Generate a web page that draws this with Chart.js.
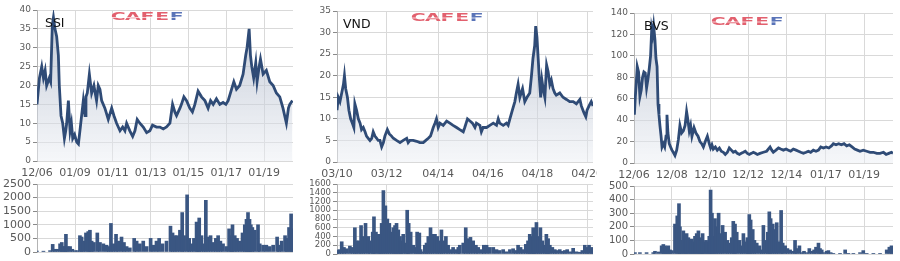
<!DOCTYPE html>
<html lang="vi">
<head>
<meta charset="UTF-8">
<title>SSI, VND, BVS</title>
<script src="https://cdn.jsdelivr.net/npm/chart.js"></script>
<style>
  body { margin: 0; background: #fff; }
  #wrap { position: relative; width: 900px; height: 261px; overflow: hidden; }
  canvas { position: absolute; }
</style>
</head>
<body>
<div id="wrap">
  <canvas id="ssiPriceCv" width="300" height="185" style="left:0;top:0"></canvas>
  <canvas id="ssiVolCv" width="300" height="83" style="left:0;top:178px"></canvas>
  <canvas id="vndPriceCv" width="297" height="185" style="left:300px;top:0"></canvas>
  <canvas id="vndVolCv" width="297" height="83" style="left:300px;top:178px"></canvas>
  <canvas id="bvsPriceCv" width="300" height="185" style="left:600px;top:0"></canvas>
  <canvas id="bvsVolCv" width="300" height="83" style="left:600px;top:178px"></canvas>
</div>
<script>
// ---- SSI ----
const ssiYears = [2006.99,2007.12,2007.24,2007.33,2007.42,2007.50,2007.64,2007.71,2007.80,2007.86,
  2007.94,2008.03,2008.12,2008.17,2008.26,2008.35,2008.44,2008.51,2008.56,2008.65,
  2008.74,2008.81,2008.88,2008.98,2009.09,2009.18,2009.26,2009.35,2009.44,2009.53,
  2009.58,2009.65,2009.76,2009.88,2010.00,2010.14,2010.23,2010.32,2010.41,2010.58,
  2010.76,2010.94,2011.06,2011.20,2011.38,2011.52,2011.64,2011.73,2011.90,2012.05,
  2012.17,2012.29,2012.43,2012.61,2012.79,2012.96,2013.10,2013.31,2013.49,2013.67,
  2013.84,2014.02,2014.16,2014.28,2014.37,2014.55,2014.63,2014.76,2014.90,2015.07,
  2015.21,2015.34,2015.51,2015.69,2015.87,2016.04,2016.17,2016.31,2016.48,2016.66,
  2016.83,2016.98,2017.10,2017.22,2017.40,2017.54,2017.71,2017.89,2018.03,2018.10,
  2018.21,2018.28,2018.35,2018.45,2018.56,2018.63,2018.74,2018.81,2018.95,2019.12,
  2019.30,2019.48,2019.65,2019.83,2020.00,2020.18,2020.29,2020.36,2020.50];
const ssiPrice = [15,22,25,22,24,20,22,21,36,38,
  35,33,28,20,12,10,6,8,10,16,
  8,10,6,7,5,4.5,8,12,16,12,
  17,18,23,18,20,16,20,19,16,14,
  11,14,12,10,8,9,8,10,8,6.5,
  8,11,10,9,7.5,8,9.5,9,9,8.5,
  9,10,15,13,12,14,15,17,16,14,
  13,15,18.5,17,16,14,16,15,16.5,15,
  15.5,15,16,18,21,19,20,23,28,30,
  35,28,25,22,26,21,25,27,23,24,
  21,20,18,17,14,10,14,15,16];
const ssiVolYears = [2006.99,2007.33,2007.68,2007.82,2007.94,2008.07,2008.21,2008.30,2008.38,2008.47,
  2008.52,2008.61,2008.74,2008.86,2009.00,2009.12,2009.26,2009.35,2009.44,2009.58,
  2009.70,2009.79,2009.88,2010.00,2010.18,2010.32,2010.50,2010.67,2010.78,2010.90,
  2011.02,2011.17,2011.29,2011.46,2011.59,2011.73,2011.90,2012.13,2012.26,2012.43,
  2012.61,2012.79,2013.00,2013.14,2013.31,2013.45,2013.63,2013.84,2014.05,2014.16,
  2014.28,2014.40,2014.55,2014.67,2014.77,2014.93,2015.04,2015.16,2015.29,2015.43,
  2015.50,2015.57,2015.69,2015.81,2015.92,2016.04,2016.17,2016.31,2016.45,2016.57,
  2016.69,2016.83,2017.01,2017.15,2017.26,2017.33,2017.45,2017.57,2017.71,2017.86,
  2017.98,2018.07,2018.15,2018.23,2018.30,2018.38,2018.51,2018.68,2018.77,2018.95,
  2019.12,2019.30,2019.48,2019.69,2019.79,2019.93,2020.11,2020.21,2020.32,2020.43,2020.50];
const ssiVolume = [30,30,50,280,100,100,300,350,200,200,
  650,200,200,100,50,50,600,550,400,700,
  750,800,400,350,700,350,300,250,200,1050,
  300,650,400,550,350,200,150,500,400,300,
  400,200,500,250,400,500,300,400,950,700,
  600,600,800,1450,600,2100,500,300,500,1100,
  900,1250,600,300,1900,550,600,350,500,600,
  400,300,200,850,600,1000,600,500,400,700,
  1000,1200,1450,1200,1000,900,800,1000,300,250,
  250,200,250,550,250,400,600,500,900,1400,850];
const ssiTickVals = [2006.99, 2009.0, 2011.0, 2013.0, 2015.0, 2017.0, 2019.0];
const ssiTickText = ['12/06', '01/09', '01/11', '01/13', '01/15', '01/17', '01/19'];

// ---- VND ----
const vndYears = [2010.17,2010.22,2010.29,2010.36,2010.43,2010.47,2010.52,2010.59,2010.65,2010.72,
  2010.79,2010.85,2010.89,2010.96,2011.03,2011.10,2011.16,2011.23,2011.30,2011.36,
  2011.43,2011.50,2011.57,2011.63,2011.70,2011.77,2011.83,2011.90,2011.97,2012.04,
  2012.10,2012.20,2012.28,2012.37,2012.44,2012.57,2012.71,2012.84,2012.98,2013.04,
  2013.11,2013.24,2013.38,2013.51,2013.65,2013.75,2013.85,2013.94,2014.05,2014.12,
  2014.18,2014.25,2014.32,2014.45,2014.59,2014.72,2014.85,2014.99,2015.12,2015.26,
  2015.32,2015.43,2015.53,2015.63,2015.73,2015.79,2015.93,2015.99,2016.06,2016.20,
  2016.33,2016.47,2016.60,2016.67,2016.73,2016.87,2017.00,2017.07,2017.14,2017.24,
  2017.34,2017.40,2017.47,2017.54,2017.65,2017.74,2017.83,2017.94,2018.01,2018.07,
  2018.14,2018.18,2018.23,2018.28,2018.32,2018.38,2018.43,2018.48,2018.55,2018.62,
  2018.68,2018.75,2018.81,2018.88,2018.95,2019.01,2019.15,2019.28,2019.42,2019.55,
  2019.69,2019.82,2019.96,2020.02,2020.12,2020.20,2020.25,2020.33,2020.42,2020.49];
const vndPrice = [12,15,14,16,18,20,17,15,12,10,
  9,8,13.5,12,10,9,7.5,8,7,6,
  5.5,5,5.5,7,6,5.5,5,5,3.5,4.5,
  6,7.5,6.5,6,5.5,5,4.5,5,5.5,4.5,
  5,5,4.8,4.5,4.5,5,5.5,6,8,9,
  10,8,9,8.5,9.5,9,8.5,8,7.5,7,
  8,10,9.5,9,8,9,8.5,7,8,8,
  8.5,9,8.5,10,9,8.5,9,8.5,10,12,
  14,16,18,15,17,14,15,16,20,24,
  27,31.5,29,24,20,15,19,17,15,22.5,
  21,18,19,17,16,15.5,16,15,14.5,14,
  14,13.5,14.5,13,11.5,10.5,12,13,14,13];
const vndVolYears = [2010.18,2010.26,2010.36,2010.45,2010.56,2010.69,2010.80,2010.89,2010.96,2011.06,
  2011.14,2011.23,2011.32,2011.43,2011.50,2011.61,2011.66,2011.74,2011.83,2011.90,
  2011.97,2012.04,2012.12,2012.20,2012.28,2012.37,2012.44,2012.51,2012.57,2012.64,
  2012.71,2012.77,2012.84,2012.95,2013.00,2013.06,2013.14,2013.24,2013.35,2013.40,
  2013.49,2013.54,2013.62,2013.71,2013.78,2013.85,2013.94,2014.02,2014.12,2014.21,
  2014.29,2014.38,2014.45,2014.56,2014.65,2014.75,2014.85,2014.96,2015.06,2015.12,
  2015.26,2015.36,2015.46,2015.55,2015.66,2015.77,2015.86,2015.99,2016.09,2016.20,
  2016.33,2016.47,2016.60,2016.73,2016.87,2017.00,2017.14,2017.27,2017.38,2017.47,
  2017.57,2017.67,2017.78,2017.87,2017.94,2018.01,2018.08,2018.13,2018.21,2018.29,
  2018.37,2018.45,2018.55,2018.61,2018.68,2018.75,2018.85,2018.95,2019.04,2019.15,
  2019.26,2019.35,2019.45,2019.58,2019.69,2019.82,2019.96,2020.06,2020.16,2020.25,
  2020.33,2020.43,2020.49];
const vndVolume = [80,100,280,150,120,180,150,600,300,300,
  650,400,700,400,300,500,850,500,450,400,
  700,1450,1100,800,700,500,600,650,700,550,
  400,300,450,250,1000,700,500,200,150,500,
  480,100,50,200,250,400,600,450,450,400,
  300,550,300,400,200,100,150,100,150,200,
  250,600,350,380,300,200,150,100,200,200,
  150,150,100,80,100,50,100,120,80,200,
  150,100,220,300,450,400,600,300,720,400,
  600,300,200,450,350,200,150,100,80,100,
  60,80,100,50,130,50,40,80,200,150,
  200,150,100];
const vndTickVals = [2010.17, 2012.17, 2014.25, 2016.25, 2018.25, 2020.25];
const vndTickText = ['03/10', '03/12', '04/14', '04/16', '04/18', '04/20'];

// ---- BVS ----
const bvsYears = [2006.95,2007.00,2007.05,2007.10,2007.17,2007.24,2007.31,2007.38,2007.45,2007.52,
  2007.59,2007.66,2007.73,2007.80,2007.86,2007.91,2007.96,2008.03,2008.08,2008.14,
  2008.19,2008.24,2008.29,2008.35,2008.40,2008.47,2008.54,2008.61,2008.66,2008.71,
  2008.78,2008.85,2008.92,2008.99,2009.08,2009.17,2009.26,2009.34,2009.43,2009.52,
  2009.61,2009.69,2009.76,2009.83,2009.90,2009.97,2010.08,2010.18,2010.29,2010.39,
  2010.48,2010.57,2010.67,2010.78,2010.88,2010.95,2011.02,2011.09,2011.20,2011.30,
  2011.41,2011.51,2011.62,2011.72,2011.83,2011.93,2012.04,2012.14,2012.25,2012.35,
  2012.46,2012.56,2012.67,2012.77,2012.88,2012.98,2013.09,2013.19,2013.30,2013.40,
  2013.54,2013.72,2013.89,2014.07,2014.16,2014.24,2014.38,2014.51,2014.63,2014.77,
  2014.91,2015.03,2015.15,2015.29,2015.43,2015.56,2015.68,2015.82,2015.96,2016.08,
  2016.20,2016.34,2016.48,2016.61,2016.73,2016.87,2017.01,2017.15,2017.29,2017.39,
  2017.53,2017.67,2017.81,2017.95,2018.09,2018.23,2018.37,2018.51,2018.65,2018.79,
  2018.96,2019.14,2019.32,2019.49,2019.67,2019.84,2020.02,2020.16,2020.30,2020.44,
  2020.52];
const bvsPrice = [45,62,75,90,85,62,68,80,85,84,
  70,78,88,100,125,120,128,115,98,90,
  55,45,35,25,15,18,15,25,45,28,
  18,15,12,10,7,12,22,35,28,30,
  35,48,40,30,35,25,33,28,25,20,
  18,15,20,25,18,14,17,13,15,12,
  14,11,10,8,10,14,12,10,11,9,
  8,9,10,11,9,8,9,10,9,8,
  9,10,11,15,12,10,12,14,13,12,
  13,12,11,13,12,11,10,9,10,11,
  10,12,11,12,15,14,15,14,16,18,
  17,18,17,18,16,17,15,13,12,11,
  12,11,10,10,9,9,10,8,9,10,
  9];
const bvsVolYears = [2006.98,2007.24,2007.59,2007.94,2008.03,2008.21,2008.38,2008.47,2008.56,2008.64,
  2008.73,2008.82,2008.92,2009.08,2009.20,2009.29,2009.34,2009.43,2009.52,2009.61,
  2009.69,2009.78,2009.87,2009.96,2010.04,2010.13,2010.22,2010.31,2010.39,2010.48,
  2010.53,2010.60,2010.71,2010.78,2010.88,2010.95,2011.02,2011.09,2011.18,2011.27,
  2011.37,2011.48,2011.58,2011.71,2011.83,2011.93,2012.06,2012.14,2012.23,2012.32,
  2012.46,2012.58,2012.67,2012.81,2012.88,2012.98,2013.05,2013.16,2013.25,2013.37,
  2013.51,2013.63,2013.72,2013.84,2013.95,2014.03,2014.10,2014.21,2014.31,2014.42,
  2014.52,2014.65,2014.73,2014.86,2014.98,2015.12,2015.26,2015.38,2015.47,2015.61,
  2015.73,2015.85,2015.99,2016.13,2016.26,2016.38,2016.48,2016.61,2016.69,2016.78,
  2016.90,2017.04,2017.13,2017.25,2017.39,2017.74,2018.01,2018.18,2018.44,2018.79,
  2018.96,2019.14,2019.49,2019.84,2020.19,2020.33,2020.44,2020.52];
const bvsVolume = [10,10,10,10,20,15,60,70,60,50,
  60,30,25,220,280,370,200,100,170,130,
  150,120,100,110,90,130,150,170,100,120,
  150,90,100,90,130,470,300,130,260,200,
  300,150,210,160,100,80,120,240,220,160,
  100,60,150,90,120,290,250,180,100,80,
  60,30,210,100,160,310,260,220,180,230,
  90,320,80,60,40,30,20,100,40,60,
  10,20,10,40,20,30,50,80,40,30,
  10,20,25,10,5,5,30,5,5,10,
  25,5,5,5,30,50,60,40];
const bvsTickVals = [2006.93, 2008.92, 2010.92, 2012.92, 2014.92, 2017.0, 2019.0];
const bvsTickText = ['12/06', '12/08', '12/10', '12/12', '12/14', '01/17', '01/19'];

// ---- styling ----
const FONT = "'DejaVu Sans', sans-serif";
const LINE_COLOR = '#2f4b76';
const BAR_COLOR = '#3a5682';
const GRID = '#d9d9d9';
const TEXT = '#595959';

Chart.defaults.font.family = FONT;

function toPoints(xs, ys) {
  return xs.map((x, i) => ({ x: x, y: ys[i] }));
}

function xAxis(min, max, tickVals, tickText, height, showLabels) {
  return {
    type: 'linear', min: min, max: max, offset: false,
    afterBuildTicks: s => { s.ticks = tickVals.map(v => ({ value: v })); },
    afterFit: s => { s.height = height; s.paddingLeft = 0; s.paddingRight = 0; },
    ticks: {
      display: showLabels, autoSkip: false, maxRotation: 0, padding: 6,
      color: TEXT, font: { size: 11 },
      callback: (v, i) => tickText[i]
    },
    grid: { color: GRID, drawTicks: false, offset: false },
    border: { display: false }
  };
}

function yAxis(max, step, width, fontSize) {
  return {
    min: 0, max: max,
    afterFit: s => { s.width = width; s.paddingTop = 0; s.paddingBottom = 0; },
    ticks: {
      stepSize: step, autoSkip: false, padding: 2, color: TEXT, font: { size: fontSize },
      callback: v => String(v)
    },
    grid: { color: GRID, tickLength: 4, tickColor: '#8a8a8a' },
    border: { color: '#b4b4b4' }
  };
}

function areaFill(context) {
  const chart = context.chart;
  const a = chart.chartArea;
  if (!a) return 'rgba(200,206,216,0.5)';
  const g = chart.ctx.createLinearGradient(0, a.top, 0, a.bottom);
  g.addColorStop(0, 'rgba(150,162,184,0.6)');
  g.addColorStop(1, 'rgba(236,239,244,0.5)');
  return g;
}

// ticker name and the CafeF mark over each price chart
const marksPlugin = {
  id: 'marks',
  afterDraw(chart, args, o) {
    if (!o || !o.name) return;
    const ctx = chart.ctx;
    ctx.save();
    ctx.font = "12.5px " + FONT;
    ctx.fillStyle = '#111';
    ctx.textBaseline = 'middle';
    ctx.fillText(o.name, o.nameX, o.nameY);

    const letters = ['C', 'A', 'F', 'E', 'F'];
    const step = o.logoW / letters.length;
    ctx.font = "bold 11px " + FONT;
    ctx.textAlign = 'center';
    letters.forEach((ch, i) => {
      ctx.save();
      ctx.translate(o.logoX + step * i + step / 2, o.logoY);
      ctx.scale(1.85, 1);
      ctx.fillStyle = i === 4 ? '#5a74b8' : '#e2606e';
      ctx.fillText(ch, 0, 0);
      ctx.restore();
    });
    ctx.fillStyle = 'rgba(255,255,255,0.7)';
    ctx.fillRect(o.logoX, o.logoY - 0.5, o.logoW, 1);
    ctx.restore();
  }
};

function priceChart(id, xs, ys, cfg) {
  return new Chart(document.getElementById(id), {
    type: 'line',
    data: {
      datasets: [{
        data: toPoints(xs, ys),
        borderColor: LINE_COLOR,
        borderWidth: 2.8,
        pointRadius: 0,
        tension: 0,
        fill: 'origin',
        backgroundColor: areaFill
      }]
    },
    options: {
      responsive: false, animation: false, events: [],
      layout: { padding: { left: 0, top: cfg.top, right: cfg.right, bottom: 0 } },
      plugins: { legend: { display: false }, tooltip: { enabled: false }, marks: cfg.marks },
      scales: {
        x: xAxis(cfg.min, cfg.max, cfg.tickVals, cfg.tickText, cfg.xh, true),
        y: yAxis(cfg.yMax, cfg.yStep, cfg.yw, 9)
      }
    },
    plugins: [marksPlugin]
  });
}

function volumeChart(id, xs, ys, cfg) {
  return new Chart(document.getElementById(id), {
    type: 'bar',
    data: {
      datasets: [{
        data: toPoints(xs, ys),
        backgroundColor: BAR_COLOR,
        barThickness: 3,
        borderWidth: 0
      }]
    },
    options: {
      responsive: false, animation: false, events: [],
      layout: { padding: { left: 0, top: cfg.top, right: cfg.right, bottom: 0 } },
      plugins: { legend: { display: false }, tooltip: { enabled: false } },
      scales: {
        x: xAxis(cfg.min, cfg.max, cfg.tickVals, cfg.tickText, cfg.xh, false),
        y: yAxis(cfg.yMax, cfg.yStep, cfg.yw, cfg.font)
      }
    }
  });
}

priceChart('ssiPriceCv', ssiYears, ssiPrice, {
  min: 2006.99, max: 2020.53, tickVals: ssiTickVals, tickText: ssiTickText,
  top: 10, right: 7, xh: 24, yw: 37, yMax: 40, yStep: 5,
  marks: { name: 'SSI', nameX: 45, nameY: 24, logoX: 111, logoY: 17.5, logoW: 73 }
});
volumeChart('ssiVolCv', ssiVolYears, ssiVolume, {
  min: 2006.99, max: 2020.53, tickVals: ssiTickVals, tickText: ssiTickText,
  top: 6, right: 7, xh: 9, yw: 37, yMax: 2500, yStep: 500, font: 11
});

priceChart('vndPriceCv', vndYears, vndPrice, {
  min: 2010.17, max: 2020.49, tickVals: vndTickVals, tickText: vndTickText,
  top: 11, right: 4, xh: 23, yw: 37, yMax: 35, yStep: 5,
  marks: { name: 'VND', nameX: 43, nameY: 25, logoX: 111, logoY: 18, logoW: 73 }
});
volumeChart('vndVolCv', vndVolYears, vndVolume, {
  min: 2010.17, max: 2020.49, tickVals: vndTickVals, tickText: vndTickText,
  top: 6, right: 4, xh: 7, yw: 37, yMax: 1600, yStep: 200, font: 8.5
});

priceChart('bvsPriceCv', bvsYears, bvsPrice, {
  min: 2006.93, max: 2020.52, tickVals: bvsTickVals, tickText: bvsTickText,
  top: 13, right: 7, xh: 22, yw: 34, yMax: 140, yStep: 20,
  marks: { name: 'BVS', nameX: 44, nameY: 27, logoX: 111, logoY: 22, logoW: 73 }
});
volumeChart('bvsVolCv', bvsVolYears, bvsVolume, {
  min: 2006.93, max: 2020.52, tickVals: bvsTickVals, tickText: bvsTickText,
  top: 8, right: 7, xh: 7, yw: 34, yMax: 500, yStep: 100, font: 10
});
</script>
</body>
</html>
